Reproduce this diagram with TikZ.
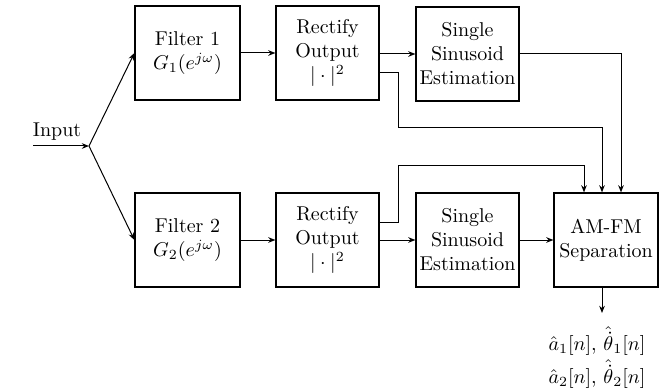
\documentclass[tikz,border=0pt]{standalone}
\usetikzlibrary{arrows.meta,calc}
\begin{document}
\begin{tikzpicture}[x=0.5pt,y=-0.5pt,
  blk/.style={draw,line width=0.6pt,minimum height=47pt,inner sep=0.5pt,align=center,font=\normalsize},
  arr/.style={line width=0.5pt,-{Stealth[length=3.6pt,width=2.8pt]}},
  ln/.style={line width=0.5pt}]
\useasboundingbox (0,0) rectangle (664,390);
\node[blk,minimum width=52.5pt] (f1) at (187.5,53) {Filter 1\\$G_1(e^{j\omega})$};
\node[blk,minimum width=51.5pt] (r1) at (327.5,53) {Rectify\\Output\\$|\cdot|^2$};
\node[blk,minimum width=51.5pt] (s1) at (467.5,54) {Single\\Sinusoid\\Estimation};
\node[blk,minimum width=52.5pt] (f2) at (187.5,240) {Filter 2\\$G_2(e^{j\omega})$};
\node[blk,minimum width=51.5pt] (r2) at (327.5,240) {Rectify\\Output\\$|\cdot|^2$};
\node[blk,minimum width=51.5pt] (s2) at (467.5,240) {Single\\Sinusoid\\Estimation};
\node[blk,minimum width=52pt] (am) at (606,240) {AM-FM\\Separation};
\node[inner sep=0pt,anchor=south] (inp) at (57,141) {Input};
\coordinate (start) at (33,146);
\coordinate (j) at (89,146);
\node[inner sep=1pt,anchor=north] (o1) at (597,324) {$\hat{a}_1[n]$, $\hat{\dot{\theta}}_1[n]$};
\node[inner sep=1pt,anchor=north] (o2) at (597,357) {$\hat{a}_2[n]$, $\hat{\dot{\theta}}_2[n]$};
\draw[arr] (start) -- (j);
\draw[arr] (j) -- (f1.west);
\draw[arr] (j) -- (f2.west);
\draw[arr] (f1) -- (r1);
\draw[arr] (f2) -- (r2);
\draw[arr] (r1.east |- s1.west) -- (s1.west);
\draw[arr] (r2) -- (s2);
\draw[arr] (s2) -- (am);
\draw[arr] (s1.east) -| ([xshift=7.5pt]am.north);
\draw[arr] ([yshift=-10pt]r1.east) -| (398,128) -| ([xshift=-2pt]am.north);
\draw[arr] ([yshift=9pt]r2.east) -| (398,166) -| ([xshift=-11pt]am.north);
\draw[arr] ([xshift=-2pt]am.south) -- ([xshift=-2pt]am.south |- 0,313);
\end{tikzpicture}
\end{document}
